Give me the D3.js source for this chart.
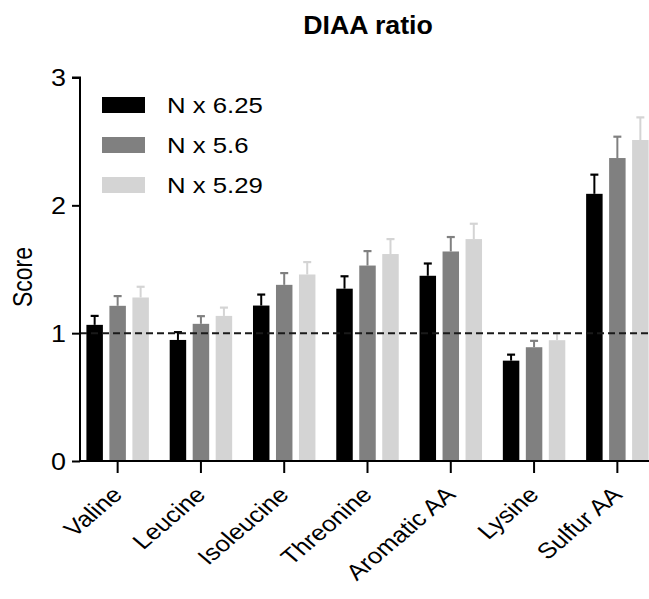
<!DOCTYPE html>
<html>
<head>
<meta charset="utf-8">
<script src="https://cdn.jsdelivr.net/npm/d3@7"></script>
<style>
  html, body { margin: 0; padding: 0; background: #fff; }
  svg { display: block; font-family: "Liberation Sans", Arial, Helvetica, sans-serif; }
</style>
</head>
<body>
<svg id="chart" width="649" height="599"></svg>
<script>
// ---- data ----
const categories = ["Valine", "Leucine", "Isoleucine", "Threonine", "Aromatic AA", "Lysine", "Sulfur AA"];
const seriesNames = ["N x 6.25", "N x 5.6", "N x 5.29"];
const seriesColors = ["#000000", "#808080", "#d4d4d4"];
const valuesN625 = [1.065, 0.947, 1.216, 1.348, 1.449, 0.785, 2.090];
const valuesN56  = [1.214, 1.073, 1.378, 1.529, 1.639, 0.890, 2.370];
const valuesN529 = [1.279, 1.135, 1.459, 1.619, 1.736, 0.945, 2.511];
const errN625 = [0.070, 0.061, 0.086, 0.097, 0.096, 0.047, 0.150];
const errN56  = [0.076, 0.060, 0.092, 0.113, 0.113, 0.050, 0.167];
const errN529 = [0.084, 0.065, 0.097, 0.117, 0.120, 0.055, 0.177];
const yTicks = [0, 1, 2, 3];
const referenceLine = 1;
const titleText = "DIAA ratio";
const yLabel = "Score";

const seriesValues = [valuesN625, valuesN56, valuesN529];
const seriesErrs = [errN625, errN56, errN529];

const SX = 1.17; // horizontal text stretch seen in the reference

const svg = d3.select("#chart");

const x0 = d3.scaleBand().domain(categories).range([76, 659]).paddingInner(0.25).paddingOuter(0.125);
const x1 = d3.scaleBand().domain(seriesNames).range([0, x0.bandwidth()]).paddingInner(0.283).paddingOuter(0);
const y = d3.scaleLinear().domain([0, 3]).range([461, 77.5]);

const rows = [];
categories.forEach((c, i) => {
  seriesNames.forEach((s, j) => {
    rows.push({ cat: c, series: s, value: seriesValues[j][i], err: seriesErrs[j][i], color: seriesColors[j] });
  });
});

// error bars (upper only, drawn behind bars)
const eb = svg.append("g");
rows.forEach(d => {
  const cx = x0(d.cat) + x1(d.series) + x1.bandwidth() / 2;
  eb.append("line").attr("x1", cx).attr("x2", cx)
    .attr("y1", y(d.value)).attr("y2", y(d.value + d.err))
    .attr("stroke", d.color).attr("stroke-width", 2);
  eb.append("line").attr("x1", cx - 4).attr("x2", cx + 4)
    .attr("y1", y(d.value + d.err)).attr("y2", y(d.value + d.err))
    .attr("stroke", d.color).attr("stroke-width", 2.2);
});

// bars
svg.append("g").selectAll("rect").data(rows).join("rect")
  .attr("x", d => x0(d.cat) + x1(d.series))
  .attr("y", d => y(d.value))
  .attr("width", x1.bandwidth())
  .attr("height", d => y(0) - y(d.value))
  .attr("fill", d => d.color);

// reference dashed line
svg.append("line")
  .attr("x1", 80).attr("x2", 649)
  .attr("y1", y(referenceLine)).attr("y2", y(referenceLine))
  .attr("stroke", "#1a1a1a").attr("stroke-width", 2)
  .attr("stroke-dasharray", "7,4");

// y axis
const yAxis = d3.axisLeft(y).tickValues(yTicks).tickFormat(d3.format("d")).tickSize(8);
const gy = svg.append("g").attr("transform", "translate(80,0)").call(yAxis);
gy.select(".domain").attr("stroke", "#000").attr("stroke-width", 2).attr("d", `M-8,${y(3)}H0V${y(0)}`);
gy.selectAll(".tick line").attr("stroke", "#000").attr("stroke-width", 2);
gy.selectAll(".tick text")
  .attr("x", null).attr("dy", null)
  .attr("transform", `translate(-14,8) scale(${SX},1)`)
  .attr("text-anchor", "end")
  .attr("font-size", 23).attr("fill", "#000")
  .attr("font-family", "Liberation Sans, Arial, sans-serif");

// x axis
const xAxis = d3.axisBottom(x0).tickSize(12).tickFormat("");
const gx = svg.append("g").attr("transform", `translate(0,${y(0)})`).call(xAxis);
gx.select(".domain").attr("stroke", "#000").attr("stroke-width", 2).attr("d", "M79,0H649");
gx.selectAll(".tick line").attr("stroke", "#000").attr("stroke-width", 2);

// x labels
svg.append("g").selectAll("text").data(categories).join("text")
  .attr("transform", d => `translate(${x0(d) + x0.bandwidth() / 2 + 6},496) scale(${SX},1) rotate(-45)`)
  .attr("text-anchor", "end")
  .attr("font-size", 22)
  .attr("fill", "#000")
  .text(d => d);

// y label
svg.append("text")
  .attr("transform", `translate(32,277) scale(${SX},1) rotate(-90)`)
  .attr("text-anchor", "middle")
  .attr("font-size", 23)
  .attr("fill", "#000")
  .text(yLabel);

// title
svg.append("text")
  .attr("transform", "translate(368,34) scale(1.07,1)")
  .attr("text-anchor", "middle")
  .attr("font-size", 25)
  .attr("font-weight", "bold")
  .attr("fill", "#000")
  .text(titleText);

// legend
const lg = svg.append("g");
seriesNames.forEach((s, j) => {
  const yy = 97 + j * 40;
  lg.append("rect").attr("x", 102).attr("y", yy).attr("width", 43).attr("height", 16).attr("fill", seriesColors[j]);
  lg.append("text").attr("transform", `translate(167,${yy + 16}) scale(${SX},1)`)
    .attr("font-size", 22).attr("fill", "#000").text(s);
});
</script>
</body>
</html>
